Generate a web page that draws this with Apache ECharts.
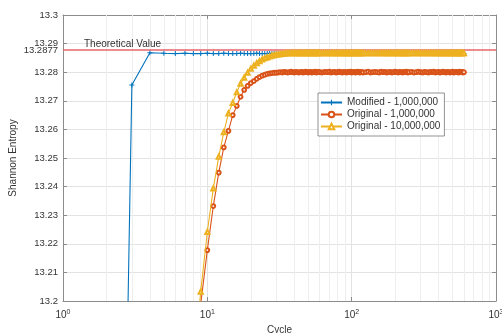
<!DOCTYPE html>
<html><head><meta charset="utf-8">
<script src="https://cdn.jsdelivr.net/npm/echarts@6/dist/echarts.min.js"></script>
<style>html,body{margin:0;padding:0;background:#fff}#c{width:502px;height:333px}</style>
</head><body><div id="c"></div>
<script>
const cycles = [
 1,2,3,4,5,6,7,8,9,10,11,12,13,14,15,16,17,18,19,20,
 21,22,23,24,25,26,27,28,29,30,31,32,33,34,35,36,37,38,39,40,
 41,42,43,44,45,46,47,48,49,50,51,52,53,54,55,56,57,58,59,60,
 62,64,66,68,70,72,74,76,78,80,82,84,86,88,90,92,94,96,98,100,
 102,104,106,108,110,112,114,116,118,120,
 125,130,135,140,145,150,155,160,165,170,175,180,185,190,195,200,
 205,210,215,220,225,230,235,240,245,250,
 260,270,280,290,300,310,320,330,340,350,360,370,380,390,400,
 410,420,430,440,450,460,470,480,490,500,510,520,530,540,550,560,570,580,590,600
];
const modified1M = [
 12.20,12.77,13.2755,13.2868,13.2866,13.2865,13.2866,13.2865,13.2865,13.2866,
 13.2865,13.2865,13.2866,13.2865,13.2865,13.2865,13.2866,13.2865,13.2865,13.2865,
 13.2865,13.2866,13.2865,13.2865,13.2865,13.2865,13.2866,13.2865,13.2865,13.2865,
 13.2865,13.2865,13.2866,13.2865,13.2865,13.2865,13.2865,13.2866,13.2865,13.2865,
 13.2865,13.2865,13.2865,13.2866,13.2865,13.2865,13.2865,13.2865,13.2865,13.2866,
 13.2865,13.2865,13.2865,13.2865,13.2866,13.2865,13.2865,13.2865,13.2865,13.2865,
 13.2865,13.2866,13.2865,13.2865,13.2865,13.2865,13.2865,13.2866,13.2865,13.2865,
 13.2865,13.2865,13.2865,13.2865,13.2866,13.2865,13.2865,13.2865,13.2865,13.2865,
 13.2865,13.2865,13.2866,13.2865,13.2865,13.2865,13.2865,13.2865,13.2865,13.2866,
 13.2865,13.2865,13.2865,13.2865,13.2865,13.2866,13.2865,13.2865,13.2865,13.2865,
 13.2865,13.2865,13.2865,13.2866,13.2865,13.2865,13.2865,13.2865,13.2865,13.2865,
 13.2866,13.2865,13.2865,13.2865,13.2865,13.2865,13.2865,13.2866,13.2865,13.2865,
 13.2865,13.2865,13.2865,13.2865,13.2866,13.2865,13.2865,13.2865,13.2865,13.2865,
 13.2865,13.2866,13.2865,13.2865,13.2865,13.2865,13.2865,13.2865,13.2866,13.2865,
 13.2865,13.2865,13.2865,13.2865,13.2865,13.2866,13.2865,13.2865,13.2865,13.2865,
 13.2865
];
const original1M = [
 null,null,null,null,null,null,null,13.1700,13.1990,13.2178,
 13.2332,13.2449,13.2537,13.2595,13.2650,13.2682,13.2714,13.2738,13.2752,13.2762,
 13.2769,13.2777,13.2783,13.2788,13.2791,13.2794,13.2796,13.2797,13.2798,13.2798,
 13.2799,13.2800,13.2799,13.2801,13.2800,13.2799,13.2800,13.2802,13.2800,13.2799,
 13.2801,13.2800,13.2799,13.2800,13.2801,13.2799,13.2800,13.2802,13.2800,13.2799,
 13.2800,13.2801,13.2799,13.2800,13.2800,13.2802,13.2799,13.2800,13.2801,13.2800,
 13.2799,13.2800,13.2801,13.2800,13.2802,13.2799,13.2800,13.2801,13.2799,13.2800,
 13.2802,13.2800,13.2799,13.2801,13.2800,13.2799,13.2801,13.2800,13.2802,13.2799,
 13.2800,13.2801,13.2799,13.2800,13.2802,13.2800,13.2799,13.2801,13.2800,13.2799,
 13.2800,13.2802,13.2799,13.2800,13.2801,13.2800,13.2799,13.2802,13.2800,13.2801,
 13.2799,13.2800,13.2801,13.2799,13.2800,13.2802,13.2800,13.2799,13.2801,13.2800,
 13.2799,13.2801,13.2800,13.2802,13.2799,13.2800,13.2801,13.2799,13.2800,13.2802,
 13.2800,13.2799,13.2801,13.2800,13.2799,13.2801,13.2800,13.2802,13.2799,13.2800,
 13.2801,13.2799,13.2800,13.2802,13.2800,13.2799,13.2801,13.2800,13.2799,13.2800,
 13.2802,13.2799,13.2800,13.2801,13.2800,13.2799,13.2802,13.2800,13.2801,13.2799,
 13.2800
];
const original10M = [
 null,null,null,null,null,null,null,13.1750,13.2033,13.2242,
 13.2394,13.2505,13.2590,13.2656,13.2693,13.2730,13.2760,13.2781,13.2798,13.2812,
 13.2823,13.2832,13.2839,13.2845,13.2849,13.2852,13.2855,13.2858,13.2860,13.2861,
 13.2862,13.2863,13.2864,13.2865,13.2866,13.2867,13.2867,13.2867,13.2867,13.2867,
 13.2867,13.2867,13.2867,13.2867,13.2867,13.2867,13.2867,13.2867,13.2867,13.2867,
 13.2867,13.2867,13.2867,13.2867,13.2867,13.2867,13.2867,13.2867,13.2867,13.2867,
 13.2867,13.2867,13.2867,13.2867,13.2867,13.2867,13.2867,13.2867,13.2867,13.2867,
 13.2867,13.2867,13.2867,13.2867,13.2867,13.2867,13.2867,13.2867,13.2867,13.2867,
 13.2867,13.2867,13.2867,13.2867,13.2867,13.2867,13.2867,13.2867,13.2867,13.2867,
 13.2867,13.2867,13.2867,13.2867,13.2867,13.2867,13.2867,13.2867,13.2867,13.2867,
 13.2867,13.2867,13.2867,13.2867,13.2867,13.2867,13.2867,13.2867,13.2867,13.2867,
 13.2867,13.2867,13.2867,13.2867,13.2867,13.2867,13.2867,13.2867,13.2867,13.2867,
 13.2867,13.2867,13.2867,13.2867,13.2867,13.2867,13.2867,13.2867,13.2867,13.2867,
 13.2867,13.2867,13.2867,13.2867,13.2867,13.2867,13.2867,13.2867,13.2867,13.2867,
 13.2867,13.2867,13.2867,13.2867,13.2867,13.2867,13.2867,13.2867,13.2867,13.2867,
 13.2867
];
const seriesNames = ['Modified - 1,000,000','Original - 1,000,000','Original - 10,000,000'];
const theoreticalValue = 13.2877;
const theoreticalLabel = 'Theoretical Value';
const minorGridValues = [2,3,4,5,6,7,8,9,20,30,40,50,60,70,80,90,200,300,400,500,600,700,800,900];

const FONT = '"Liberation Sans", Arial, sans-serif';
const TXT = '#333333';
function pairs(vals){ const out=[]; cycles.forEach((c,i)=>{ if(vals[i]!==null && vals[i]!==undefined) out.push([c, vals[i]]); }); return out; }
const plusPath = 'path://M4,0h2v4h4v2h-4v4h-2v-4h-4v-2h4z';

const chart = echarts.init(document.getElementById('c'), null, {renderer:'canvas'});
const xBase = {
  type:'log', logBase:10, min:1, max:1000, gridIndex:0,
  axisLine:{show:true, onZero:false, lineStyle:{color:'#8c8c8c', width:1}},
  axisTick:{show:true, inside:true, length:4, lineStyle:{color:'#8c8c8c'}},
};
const yBase = {
  type:'value', min:13.2, max:13.3, interval:0.01,
  axisLine:{show:true, lineStyle:{color:'#8c8c8c', width:1}},
  axisTick:{show:true, inside:true, length:4, lineStyle:{color:'#8c8c8c'}},
};
chart.setOption({
  animation:false,
  backgroundColor:'#ffffff',
  textStyle:{fontFamily:FONT},
  grid:{left:63, right:6, top:15, bottom:32, containLabel:false, outerBoundsMode:'none'},
  legend:{
    data:seriesNames, orient:'vertical', left:318, top:93,
    itemWidth:21, itemHeight:7, itemGap:1,
    padding:[4,4,4,2], backgroundColor:'#ffffff', borderColor:'#666', borderWidth:0.7,
    textStyle:{fontSize:10, lineHeight:11, color:TXT, fontFamily:FONT}
  },
  xAxis:[
    Object.assign({}, xBase, {
      position:'bottom', name:'Cycle', nameLocation:'middle', nameGap:23,
      nameTextStyle:{fontSize:10, color:TXT, fontFamily:FONT},
      axisLabel:{show:true, margin:8, color:TXT, fontSize:10, fontFamily:FONT,
        formatter:function(v){ const e=Math.round(Math.log10(v)); return '10{sup|'+e+'}'; },
        rich:{sup:{fontSize:7, verticalAlign:'top', padding:[0,0,6,0], color:TXT, fontFamily:FONT}}},
      splitLine:{show:true, lineStyle:{color:'#e3e3e3', width:1}}
    }),
    Object.assign({}, xBase, {position:'top', axisLabel:{show:false}, splitLine:{show:false}})
  ],
  yAxis:[
    Object.assign({}, yBase, {
      position:'left', name:'Shannon Entropy', nameLocation:'middle', nameGap:45, nameRotate:90,
      nameTextStyle:{fontSize:10, color:TXT, fontFamily:FONT},
      axisLabel:{show:true, margin:5, color:TXT, fontSize:9.5, fontFamily:FONT,
        formatter:function(v){ return String(parseFloat(v.toFixed(2))); }},
      splitLine:{show:true, lineStyle:{color:'#e3e3e3', width:1}}
    }),
    Object.assign({}, yBase, {position:'right', axisLabel:{show:false}, splitLine:{show:false}})
  ],
  series:[
    {
      name:seriesNames[0], type:'line', xAxisIndex:0, yAxisIndex:0,
      data:pairs(modified1M), color:'#0072bd',
      symbol:plusPath, symbolSize:5, showSymbol:true,
      lineStyle:{width:1.1, color:'#0072bd'}, itemStyle:{color:'#0072bd'},
      z:3,
      markLine:{
        silent:true, symbol:['none','none'], animation:false, z:1,
        data:minorGridValues.map(v=>({xAxis:v, label:{show:false}, lineStyle:{color:'#eeeeee', width:1, type:'solid'}}))
      }
    },
    {
      name:seriesNames[1], type:'line', xAxisIndex:0, yAxisIndex:0,
      data:pairs(original1M), color:'#d95319',
      symbol:'emptyCircle', symbolSize:3.8, showSymbol:true,
      lineStyle:{width:1.1, color:'#d95319'}, itemStyle:{color:'#d95319', borderWidth:1},
      z:4
    },
    {
      name:seriesNames[2], type:'line', xAxisIndex:0, yAxisIndex:0,
      data:pairs(original10M), color:'#edb120',
      symbol:'emptyTriangle', symbolSize:4.2, showSymbol:true,
      lineStyle:{width:1.1, color:'#edb120'}, itemStyle:{color:'#edb120', borderWidth:1},
      z:5,
      markLine:{
        silent:true, symbol:['none','none'], animation:false, precision:4,
        data:[
          {yAxis:theoreticalValue, lineStyle:{color:'#e8646c', width:1.5, type:'solid'},
           label:{show:true, position:'insideStartTop', formatter:theoreticalLabel, distance:[21,1],
                  color:TXT, fontSize:10, fontFamily:FONT}},
          {yAxis:theoreticalValue, lineStyle:{color:'rgba(0,0,0,0)', width:0.01},
           label:{show:true, position:'start', formatter:String(theoreticalValue), distance:5,
                  color:TXT, fontSize:9.5, fontFamily:FONT}}
        ]
      }
    }
  ]
});
</script></body></html>
